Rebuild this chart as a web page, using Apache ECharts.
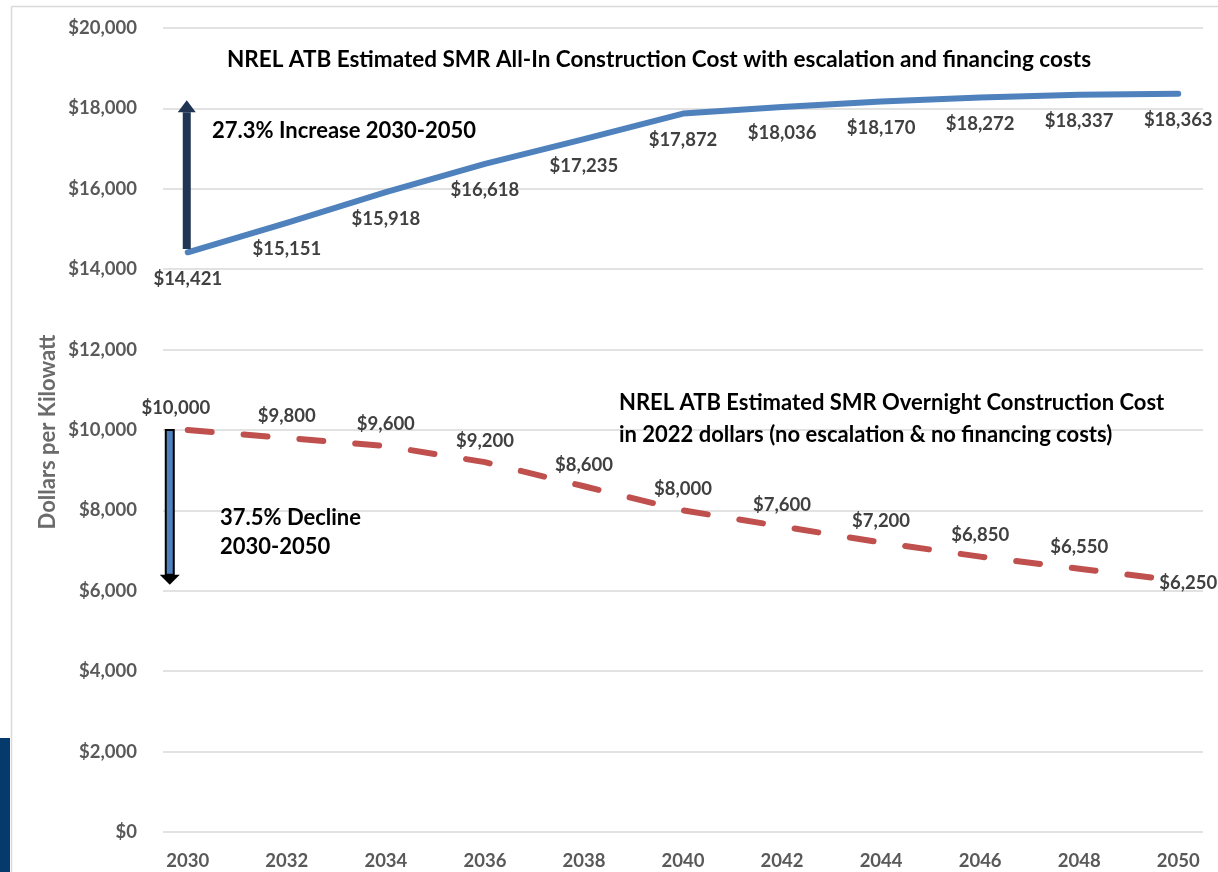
<!DOCTYPE html>
<html>
<head>
<meta charset="utf-8">
<script src="https://cdn.jsdelivr.net/npm/echarts@6/dist/echarts.min.js"></script>
<style>
html,body{margin:0;padding:0;background:#fff;}
#chart{width:1218px;height:872px;}
</style>
</head>
<body>
<div id="chart"></div>
<script>
// ---- data ----
const years = ['2030','2031','2032','2033','2034','2035','2036','2037','2038','2039','2040',
               '2041','2042','2043','2044','2045','2046','2047','2048','2049','2050'];
const labelYears = ['2030','2032','2034','2036','2038','2040','2042','2044','2046','2048','2050'];
const allInCost = [14421, 15151, 15918, 16618, 17235, 17872, 18036, 18170, 18272, 18337, 18363];
const overnightCost = [10000, 9800, 9600, 9200, 8600, 8000, 7600, 7200, 6850, 6550, 6250];

const FONT = 'Lato';
const AX = 18.5, LB = 18.5, TX = 22;
function fmt(v){ return '$' + v.toLocaleString('en-US'); }
function toSeries(vals){
  return years.map(function(y){ const i = labelYears.indexOf(y); return i >= 0 ? vals[i] : null; });
}
const redData = toSeries(overnightCost).map(function(v, idx){
  if (v === null) return null;
  if (idx === 0) return {value: v, label: {offset: [-12, 0]}};
  if (idx === years.length - 1) return {value: v, label: {position: 'inside', align: 'right', offset: [39, 2]}};
  return v;
});

const labelStyle = {color: '#404040', fontFamily: FONT, fontWeight: 700, fontSize: LB};

const chart = echarts.init(document.getElementById('chart'), null, {renderer: 'canvas'});
chart.setOption({
  animation: false,
  backgroundColor: '#ffffff',
  grid: {left: 163, right: 15, top: 28, bottom: 40, containLabel: false},
  xAxis: {
    type: 'category',
    data: years,
    boundaryGap: true,
    axisLine: {show: false},
    axisTick: {show: false},
    axisLabel: {interval: 1, color: '#595959', fontFamily: FONT, fontWeight: 700, fontSize: AX, margin: 20}
  },
  yAxis: {
    type: 'value',
    min: 0, max: 20000, interval: 2000,
    axisLine: {show: false},
    axisTick: {show: false},
    splitLine: {lineStyle: {color: '#D9D9D9', width: 1.5}},
    axisLabel: {color: '#595959', fontFamily: FONT, fontWeight: 700, fontSize: AX, margin: 26,
      formatter: function(v){ return fmt(v); }}
  },
  series: [
    {
      type: 'line', name: 'All-In', data: toSeries(allInCost), connectNulls: true,
      symbol: 'circle', symbolSize: 0.1, showSymbol: true,
      itemStyle: {color: '#4F81BD'},
      lineStyle: {color: '#4F81BD', width: 6, cap: 'round', join: 'round'},
      label: Object.assign({show: true, position: 'bottom', distance: 17,
        formatter: function(p){ return fmt(p.value); }}, labelStyle),
      z: 3
    },
    {
      type: 'line', name: 'Overnight', data: redData, connectNulls: true,
      symbol: 'circle', symbolSize: 0.1, showSymbol: true,
      itemStyle: {color: '#C0504D'},
      lineStyle: {color: '#C0504D', width: 6, type: [24, 32], cap: 'round', join: 'round'},
      label: Object.assign({show: true, position: 'top', distance: 12,
        formatter: function(p){ return fmt(typeof p.value === 'object' ? p.value.value : p.value); }}, labelStyle),
      z: 3
    }
  ]
});

// ---- annotations placed through the axes ----
const x2030 = chart.convertToPixel({xAxisIndex: 0}, '2030');
const py = function(v){ return chart.convertToPixel({yAxisIndex: 0}, v); };
const upX = x2030 - 1, dnX = x2030 - 18;
const upBottom = py(14500), upTip = py(18200);
const dnTop = py(10000), dnTip = py(6150);

const txt = function(x, y, t, align, size){
  return {type: 'text', x: x, y: y, style: {text: t, fill: '#000', fontFamily: FONT,
    fontWeight: 700, fontSize: size || TX, textAlign: align || 'left', textVerticalAlign: 'middle'}, z: 10};
};

chart.setOption({
  graphic: [
    // slide frame
    {type: 'line', shape: {x1: 11.5, y1: 6.5, x2: 1218, y2: 6.5}, style: {stroke: '#D9D9D9', lineWidth: 1.5}},
    {type: 'line', shape: {x1: 11.5, y1: 6.5, x2: 11.5, y2: 872}, style: {stroke: '#D9D9D9', lineWidth: 1.5}},
    {type: 'rect', shape: {x: 0, y: 738, width: 10, height: 134}, style: {fill: '#063A6D'}},
    // up arrow
    {type: 'rect', shape: {x: upX - 4, y: upTip + 12, width: 8, height: upBottom - upTip - 12}, style: {fill: '#1F3553'}, z: 5},
    {type: 'polygon', shape: {points: [[upX - 9, upTip + 12], [upX + 9, upTip + 12], [upX, upTip]]}, style: {fill: '#1F3553'}, z: 5},
    // down arrow
    {type: 'rect', shape: {x: dnX - 4, y: dnTop, width: 8, height: dnTip - dnTop - 10}, style: {fill: '#4F81BD', stroke: '#000', lineWidth: 2}, z: 5},
    {type: 'polygon', shape: {points: [[dnX - 10, dnTip - 10], [dnX + 10, dnTip - 10], [dnX, dnTip]]}, style: {fill: '#000'}, z: 5},
    // texts
    txt(659, 60, 'NREL ATB Estimated SMR All-In Construction Cost with escalation and financing costs', 'center', 22.5),
    txt(212, 131, '27.3% Increase 2030-2050'),
    txt(619, 403, 'NREL ATB Estimated SMR Overnight Construction Cost'),
    txt(619, 435, 'in 2022 dollars (no escalation & no financing costs)'),
    txt(220, 518, '37.5% Decline'),
    txt(220, 547, '2030-2050'),
    {type: 'text', x: 48, y: 432, rotation: Math.PI / 2,
      style: {text: 'Dollars per Kilowatt', fill: '#6B6B6B', fontFamily: FONT, fontWeight: 700, fontSize: TX,
        textAlign: 'center', textVerticalAlign: 'middle'}, z: 10}
  ]
});
</script>
</body>
</html>
